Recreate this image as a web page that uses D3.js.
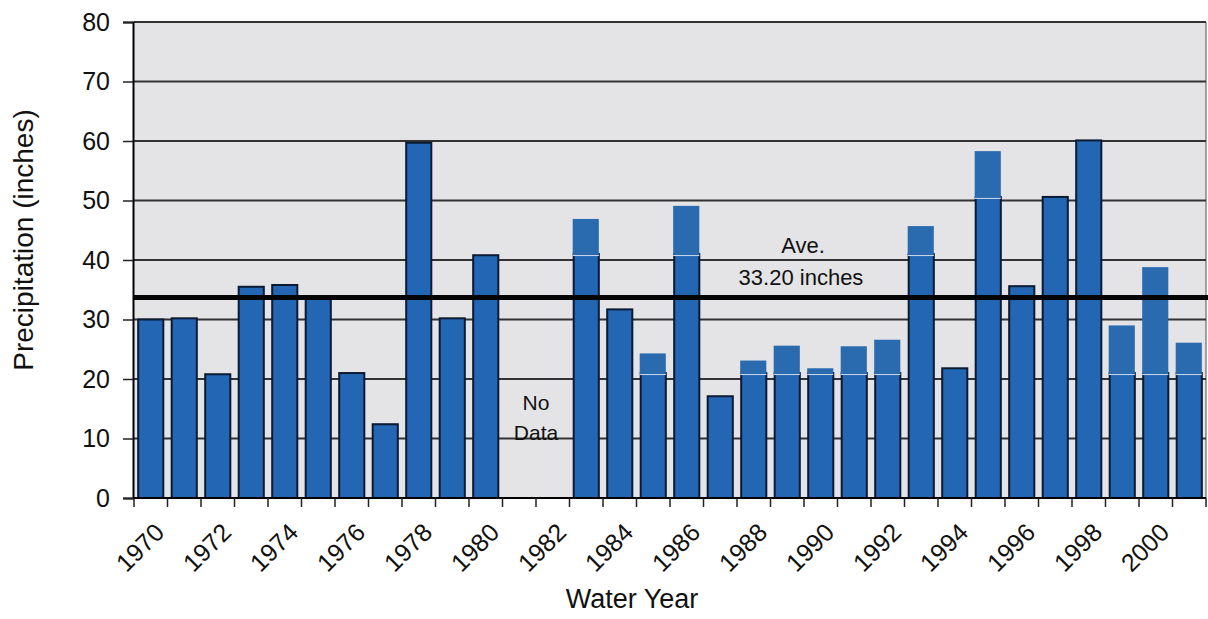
<!DOCTYPE html>
<html>
<head>
<meta charset="utf-8">
<script src="https://cdn.jsdelivr.net/npm/d3@7"></script>
<style>
  html, body { margin: 0; padding: 0; background: #ffffff; }
  svg { display: block; font-family: "Liberation Sans", Arial, Helvetica, sans-serif; }
</style>
</head>
<body>
<svg id="chart" width="1208" height="619"></svg>
<script>
// ---- data ----
const years = ["1970","1971","1972","1973","1974","1975","1976","1977","1978","1979",
               "1980","1981","1982","1983","1984","1985","1986","1987","1988","1989",
               "1990","1991","1992","1993","1994","1995","1996","1997","1998","1999",
               "2000","2001"];
const precip = [30.0, 30.2, 20.8, 35.5, 35.8, 33.8, 21.0, 12.4, 59.7, 30.2,
                40.8, null, null, 46.9, 31.7, 24.3, 49.1, 17.1, 23.1, 25.6,
                21.8, 25.5, 26.6, 45.7, 21.8, 58.3, 35.6, 50.6, 60.1, 29.0,
                38.8, 26.1];
// height up to which each bar keeps its black outline (the rest is a plain patch)
const outlinedTo = [null, null, null, null, null, null, null, null, null, null,
                    null, null, null, 41, null, 21, 41, null, 21, 21,
                    21, 21, 21, 41, null, 50.6, null, null, null, 21,
                    21, 21];
const yTicks = [0, 10, 20, 30, 40, 50, 60, 70, 80];
const xLabelYears = ["1970","1972","1974","1976","1978","1980","1982","1984","1986",
                     "1988","1990","1992","1994","1996","1998","2000"];
const averageLabel = ["Ave.", "33.20 inches"];
const averageLineValue = 33.7;
const noDataLabel = ["No", "Data"];
const noDataYears = ["1981", "1982"];

// ---- layout ----
const svg = d3.select("#chart");
const pLeft = 134, pRight = 1206, pTop = 22, pBottom = 498;

const x = d3.scaleBand().domain(years).range([pLeft, pRight])
  .paddingInner(0.25).paddingOuter(0.125);
const y = d3.scaleLinear().domain([0, 80]).range([pBottom, pTop]);
const step = x.step();

// plot background
svg.append("rect")
  .attr("x", pLeft).attr("y", pTop)
  .attr("width", pRight - pLeft).attr("height", pBottom - pTop)
  .attr("fill", "#e4e4e6");

// right border
svg.append("line")
  .attr("x1", pRight).attr("x2", pRight).attr("y1", pTop).attr("y2", pBottom)
  .attr("stroke", "#6a6a6a").attr("stroke-width", 1.2);

// gridlines
svg.append("g").selectAll("line")
  .data(yTicks.filter(d => d > 0))
  .join("line")
  .attr("x1", pLeft).attr("x2", pRight)
  .attr("y1", d => y(d)).attr("y2", d => y(d))
  .attr("stroke", "#333333").attr("stroke-width", 1.8);

// bars
const barColor = "#2366b4";
const patchColor = "#2a6aaf";
const idx = years.map((d, i) => i).filter(i => precip[i] != null);
const baseTop = i => (outlinedTo[i] != null ? outlinedTo[i] : precip[i]);

// outlined base part
svg.append("g").selectAll("rect")
  .data(idx)
  .join("rect")
  .attr("x", i => x(years[i]))
  .attr("width", x.bandwidth())
  .attr("y", i => y(baseTop(i)))
  .attr("height", i => y(0) - y(baseTop(i)))
  .attr("fill", barColor)
  .attr("stroke", "#0b1a33").attr("stroke-width", 2);

// plain patches on top (no outline)
const patched = idx.filter(i => outlinedTo[i] != null);
svg.append("g").selectAll("rect")
  .data(patched)
  .join("rect")
  .attr("x", i => x(years[i]) - 1)
  .attr("width", x.bandwidth() + 1)
  .attr("y", i => y(precip[i]))
  .attr("height", i => y(outlinedTo[i]) - y(precip[i]) + 1.5)
  .attr("fill", patchColor);

// light seam where patch meets base
svg.append("g").selectAll("line")
  .data(patched)
  .join("line")
  .attr("x1", i => x(years[i]) - 1)
  .attr("x2", i => x(years[i]) + x.bandwidth())
  .attr("y1", i => y(outlinedTo[i]) + 1.5)
  .attr("y2", i => y(outlinedTo[i]) + 1.5)
  .attr("stroke", "#cfdcec").attr("stroke-width", 1);

// average line
svg.append("line")
  .attr("x1", pLeft - 1).attr("x2", 1208)
  .attr("y1", y(averageLineValue)).attr("y2", y(averageLineValue))
  .attr("stroke", "#050505").attr("stroke-width", 5);

// average label
const avgText = svg.append("text")
  .attr("text-anchor", "middle").attr("font-size", 22).attr("fill", "#111");
avgText.append("tspan").attr("x", 803).attr("y", 253).text(averageLabel[0]);
avgText.append("tspan").attr("x", 801).attr("y", 285).text(averageLabel[1]);

// No data label
const ndx = (x(noDataYears[0]) + x(noDataYears[1]) + x.bandwidth()) / 2;
const ndText = svg.append("text")
  .attr("text-anchor", "middle").attr("font-size", 21).attr("fill", "#111");
ndText.append("tspan").attr("x", ndx).attr("y", y(15) + 1).text(noDataLabel[0]);
ndText.append("tspan").attr("x", ndx).attr("y", y(10) + 1).text(noDataLabel[1]);

// y axis
const yAxis = svg.append("g")
  .attr("transform", `translate(${pLeft - 1},0)`)
  .call(d3.axisLeft(y).tickValues(yTicks).tickSize(10).tickPadding(13));
yAxis.select(".domain").attr("stroke", "#000").attr("stroke-width", 2);
yAxis.selectAll(".tick line").attr("stroke", "#222").attr("stroke-width", 1.5);
yAxis.selectAll(".tick text")
  .attr("font-size", 25).attr("fill", "#111")
  .attr("font-family", "'Liberation Sans', Arial, sans-serif");

// x axis baseline
svg.append("line")
  .attr("x1", pLeft - 1).attr("x2", pRight)
  .attr("y1", pBottom).attr("y2", pBottom)
  .attr("stroke", "#000").attr("stroke-width", 2);

// x ticks at category boundaries
const boundaries = years.map(d => x(d) - step * x.paddingInner() / 2)
  .concat([x(years[years.length - 1]) + x.bandwidth() + step * x.paddingInner() / 2]);
svg.append("g").selectAll("line")
  .data(boundaries)
  .join("line")
  .attr("x1", d => d).attr("x2", d => d)
  .attr("y1", pBottom).attr("y2", pBottom + 9)
  .attr("stroke", "#222").attr("stroke-width", 1.5);

// x tick labels (rotated)
const xAxis = svg.append("g")
  .attr("transform", `translate(0,${pBottom})`)
  .call(d3.axisBottom(x).tickValues(xLabelYears).tickSize(0));
xAxis.select(".domain").remove();
xAxis.selectAll(".tick text")
  .attr("font-size", 25).attr("fill", "#111")
  .attr("font-family", "'Liberation Sans', Arial, sans-serif")
  .attr("text-anchor", "end")
  .attr("x", 0).attr("y", 0).attr("dy", 0)
  .attr("transform", "translate(15,36) rotate(-45)");

// axis titles
svg.append("text")
  .attr("transform", "translate(33,240) rotate(-90)")
  .attr("text-anchor", "middle").attr("font-size", 28).attr("fill", "#111")
  .text("Precipitation (inches)");

svg.append("text")
  .attr("x", 632).attr("y", 608)
  .attr("text-anchor", "middle").attr("font-size", 27).attr("fill", "#111")
  .text("Water Year");
</script>
</body>
</html>
